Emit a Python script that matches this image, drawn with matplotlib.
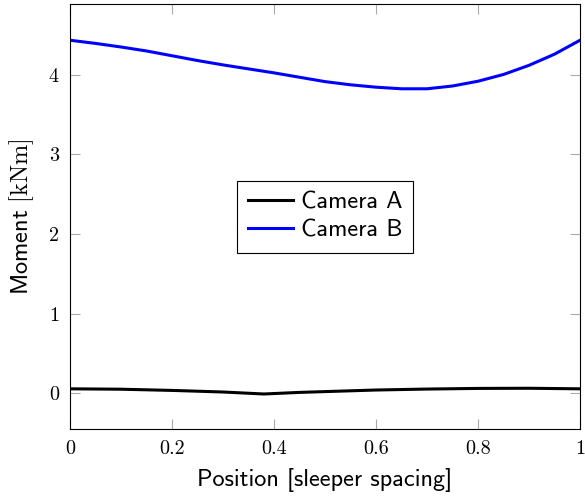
import matplotlib
matplotlib.use("Agg")
import matplotlib.pyplot as plt
from matplotlib.ticker import FuncFormatter

# values
pos_a = [0.0, 0.1, 0.2, 0.3, 0.38, 0.45, 0.6, 0.7, 0.8, 0.9, 1.0]
moment_a = [0.055, 0.05, 0.035, 0.015, -0.01, 0.01, 0.04, 0.052, 0.06, 0.062, 0.055]

pos_b = [0.0, 0.05, 0.1, 0.15, 0.2, 0.25, 0.3, 0.35, 0.4, 0.45, 0.5, 0.55, 0.6,
         0.65, 0.7, 0.75, 0.8, 0.85, 0.9, 0.95, 1.0]
moment_b = [4.435, 4.395, 4.35, 4.3, 4.24, 4.18, 4.125, 4.075, 4.025, 3.97, 3.915,
            3.875, 3.845, 3.825, 3.825, 3.86, 3.92, 4.005, 4.12, 4.26, 4.435]

x_ticks = [0, 0.2, 0.4, 0.6, 0.8, 1.0]
y_ticks = [0, 1, 2, 3, 4]

plt.rcParams["axes.formatter.use_mathtext"] = True
plt.rcParams["mathtext.fontset"] = "cm"

fig = plt.figure(figsize=(5.85, 5.03), dpi=100)
ax = fig.add_axes([0.1197, 0.1471, 0.8718, 0.8449])

ax.plot(pos_a, moment_a, color="black", lw=2.2, label="Camera A")
ax.plot(pos_b, moment_b, color="blue", lw=2.2, label="Camera B")

ax.set_xlim(0, 1)
ax.set_ylim(-0.45, 4.89)
ax.set_xticks(x_ticks)
ax.set_yticks(y_ticks)
ax.xaxis.set_major_formatter(FuncFormatter(lambda v, p: f"{v:g}"))
ax.yaxis.set_major_formatter(FuncFormatter(lambda v, p: f"{v:g}"))

ax.tick_params(direction="in", length=7.5, width=0.8, color="#aaaaaa",
               top=True, right=True, labelsize=14.5, pad=8)
for lab in ax.get_xticklabels() + ax.get_yticklabels():
    lab.set_fontfamily("cmr10")
for sp in ax.spines.values():
    sp.set_linewidth(0.8)

ax.set_xlabel("Position [sleeper spacing]", family="cmss10", fontsize=17.5, labelpad=7)
ax.set_ylabel(r"Moment $[\mathrm{kNm}]$", family="cmss10", fontsize=17.5, labelpad=9)

leg = ax.legend(loc="center", prop={"family": "cmss10", "size": 17.5},
                fancybox=False, framealpha=1, edgecolor="black",
                handlelength=1.85, handletextpad=0.35, borderpad=0.45,
                labelspacing=0.25, borderaxespad=0)
leg.get_frame().set_linewidth(0.8)

fig.savefig("out.png", dpi=100)
